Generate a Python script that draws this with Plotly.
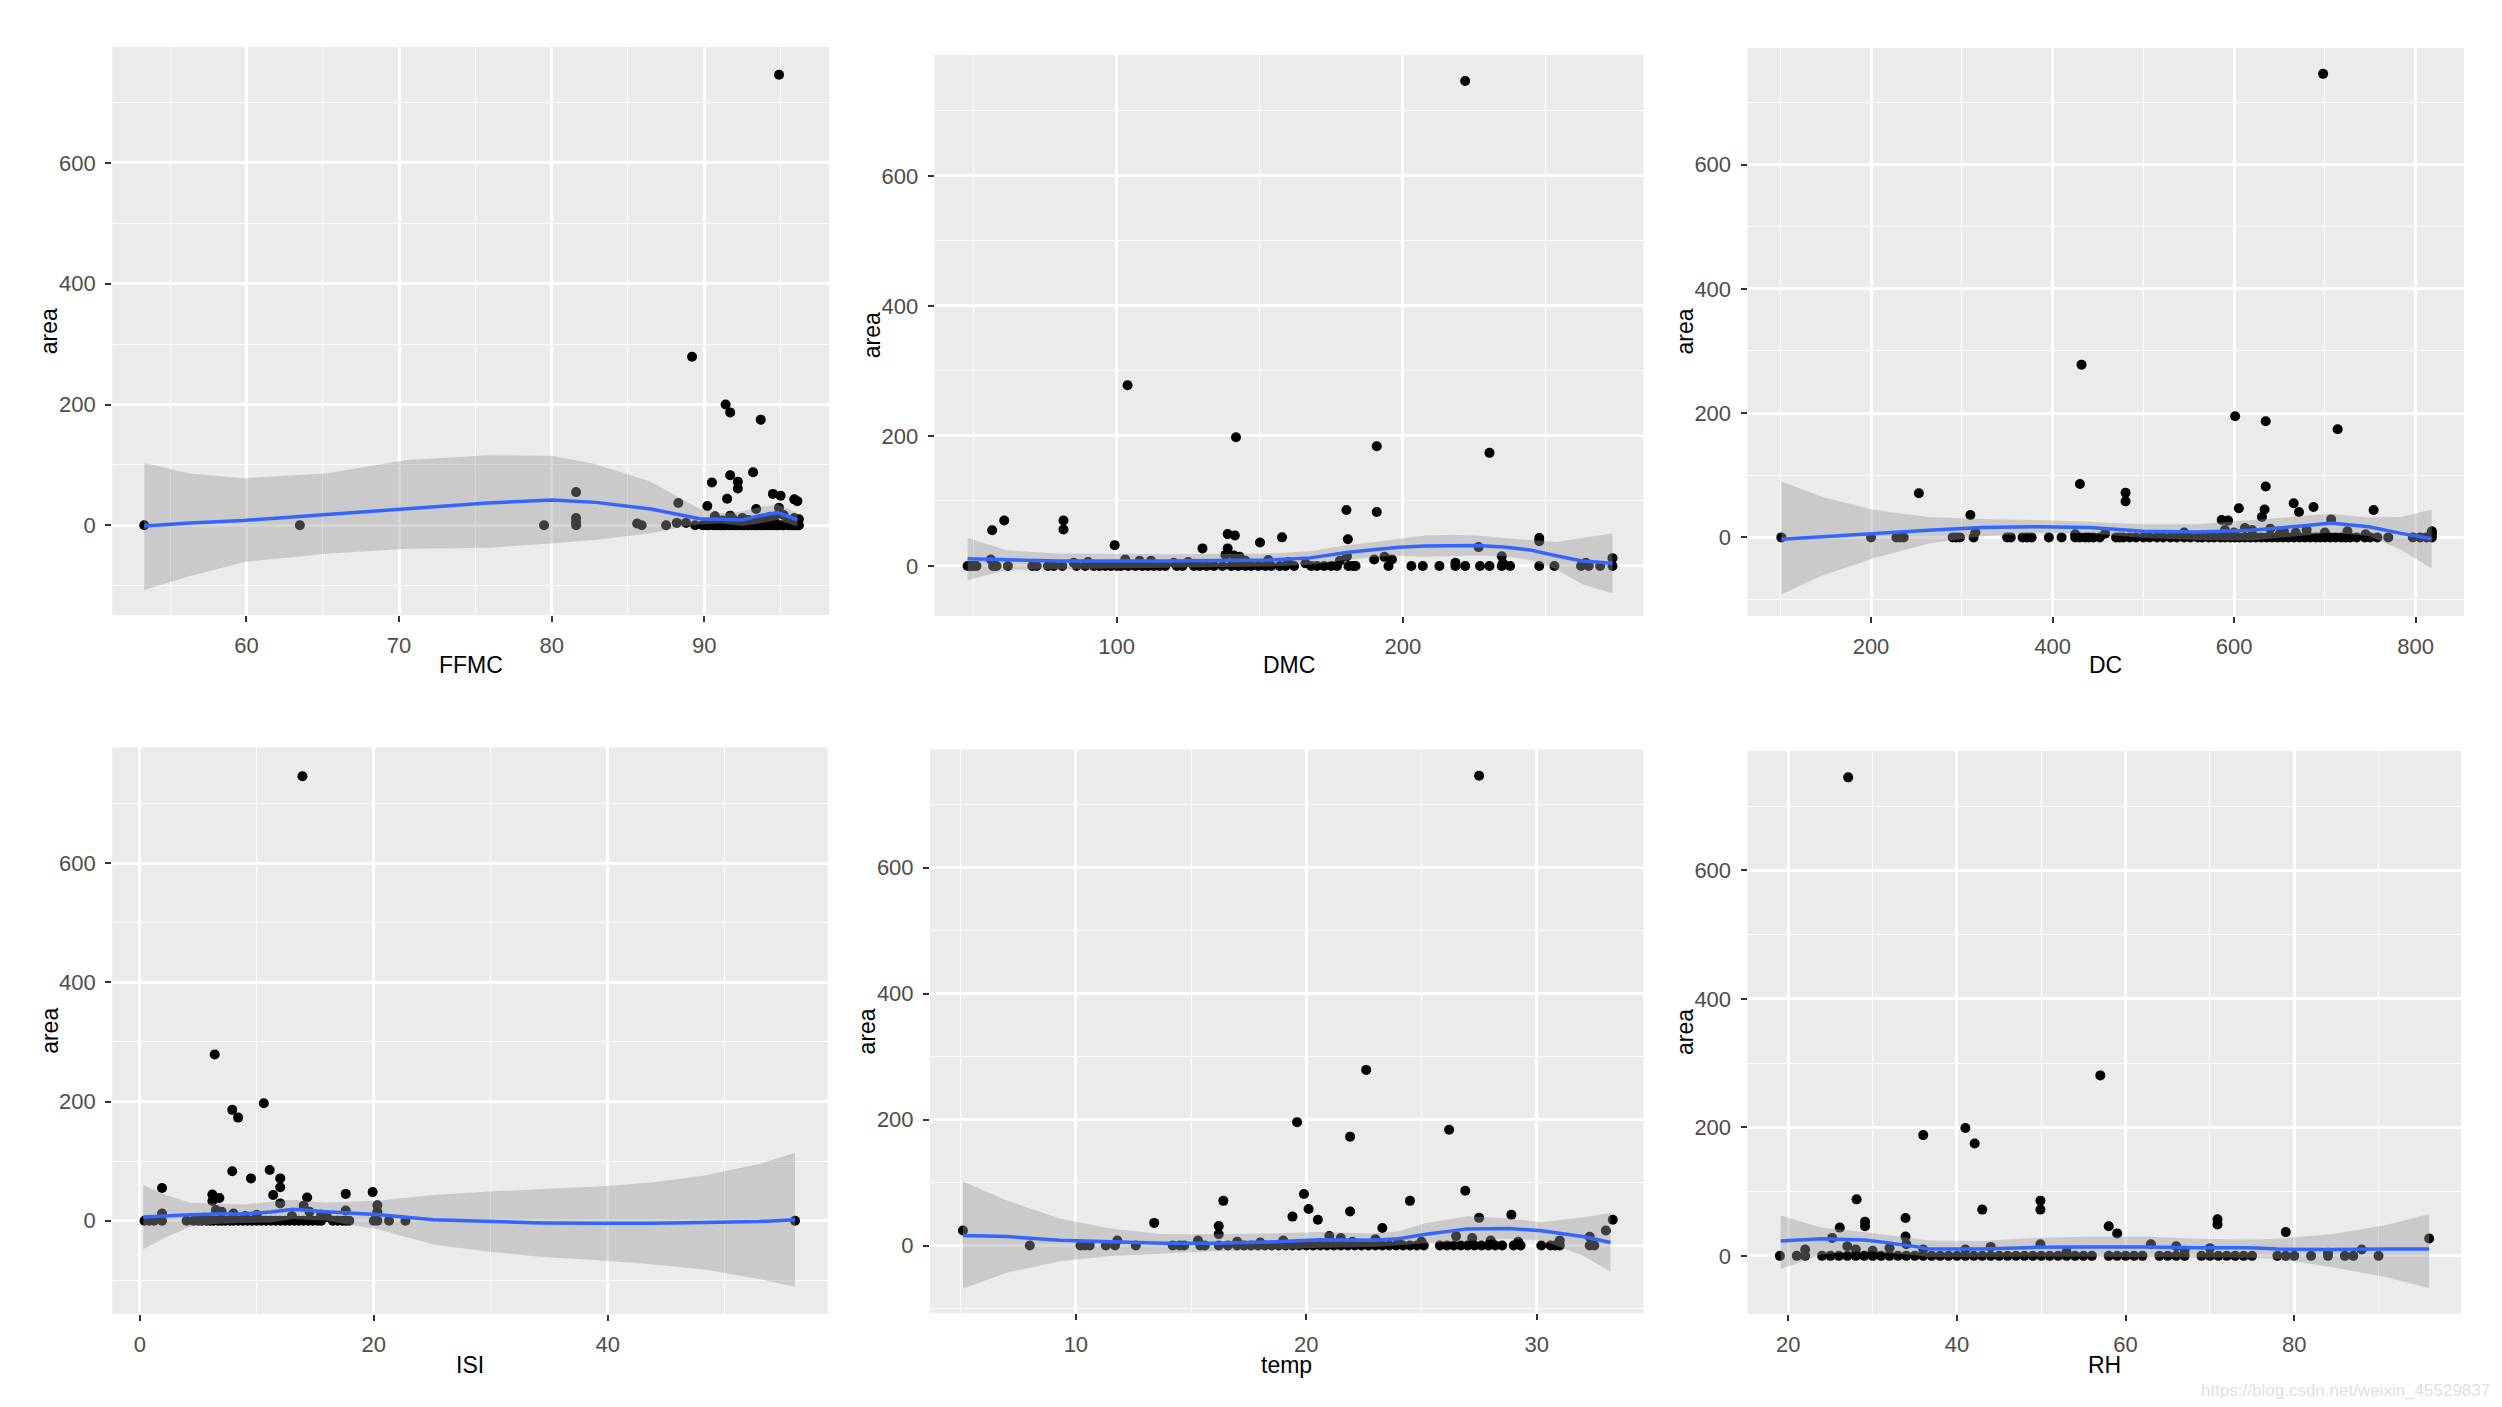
import plotly.graph_objects as go

# ---------------- data ----------------
# FFMC panel
ffmc_x = [94.9, 89.2, 91.4, 91.7, 93.7, 93.2, 91.7, 90.5, 92.2, 92.2, 81.6, 94.5, 95.0, 91.5, 95.9,
          96.1, 88.3, 90.2, 93.4, 94.9, 81.6, 81.6, 85.6, 88.2, 88.8, 90.7, 91.2, 91.7, 92.5, 93.3,
          93.7, 94.3, 94.9, 95.2, 95.9, 96.2, 92.0, 92.9, 93.9, 94.6, 95.5, 90.9, 91.9]
ffmc_area = [746, 279, 200, 187, 175, 88, 83, 71, 72, 61, 55, 52, 49, 44, 43,
             40, 37, 32, 27, 29, 12, 6, 3, 4, 4, 15, 8, 16, 12, 6,
             10, 14, 20, 17, 12, 10, 5, 9, 4, 7, 5, 3, 10]
ffmc_zero_x = [53.3, 63.5, 79.5, 81.6, 85.9, 87.5, 89.4, 89.9, 90.1, 90.3, 90.6, 90.8, 91.0, 91.1,
               91.3, 91.4, 91.6, 91.8, 92.0, 92.1, 92.3, 92.5, 92.6, 92.8, 92.9, 93.1, 93.3, 93.4,
               93.5, 93.7, 93.9, 94.1, 94.3, 94.5, 94.7, 94.8, 95.0, 95.1, 95.2, 95.5, 95.7, 95.8,
               95.9, 96.0, 96.1, 96.2]
ffmc_fit_x = [53.3, 56.3, 59.8, 65.2, 70.5, 75.8, 80.0, 82.9, 86.5, 88.6, 89.7, 91.1, 92.5, 93.6, 94.8, 96.1]
ffmc_fit = [-1, 4, 8, 18, 28, 37, 42, 38, 27, 16, 11, 10, 9, 16, 21, 9]
ffmc_hi = [103, 86, 78, 86, 108, 116, 115, 101, 72, 42, 27, 20, 23, 30, 35, 20]
ffmc_lo = [-107, -84, -61, -47, -39, -37, -30, -24, -13, -2, 1.5, 3, -1, 3, 9, -2]

# DMC panel
dmc_x = [221.8, 103.8, 141.7, 190.9, 230.3, 180.3, 190.9, 60.7, 81.4, 81.4, 56.5, 138.8, 141.3, 157.8,
         247.7, 180.8, 150.1, 99.3, 247.7, 130.0, 138.8, 226.5, 234.6, 193.6, 196.2, 180.5, 141.0,
         143.0, 138.0, 56.0, 108.0, 112.0, 273.3, 190.0, 85.0, 125.0, 153.0, 160.0, 166.0, 178.0,
         235.0, 218.4, 264.0, 103.0, 90.0, 120.0, 145.0]
dmc_area = [746, 278, 198, 184, 174, 86, 83, 70, 70, 56, 55, 49, 47, 44,
            43, 41, 36, 32, 38, 27, 27, 29, 15, 14, 10, 15, 16,
            14, 17, 10, 8, 8, 12, 10, 5, 6, 9, 6, 4, 8,
            4, 5, 5, 10, 6, 5, 8]
dmc_zero_x = [47.9, 48.5, 49.2, 50.0, 51.0, 56.8, 58.0, 62.0, 70.5, 72.0, 76.0, 78.0, 81.0, 86.0, 89.0,
              92.0, 94.0, 96.0, 98.0, 100.0, 101.5, 104.0, 106.5, 109.0, 111.0, 113.0, 115.0, 117.0,
              121.0, 123.0, 127.0, 129.0, 131.5, 134.0, 137.0, 140.0, 142.5, 145.0, 147.0, 149.5,
              152.0, 154.0, 157.0, 159.0, 162.0, 168.0, 170.0, 172.5, 175.0, 177.0, 181.0, 182.5,
              183.5, 195.0, 203.0, 207.0, 212.8, 218.4, 221.8, 227.0, 230.3, 234.6, 237.5, 247.7,
              253.0, 262.3, 265.0, 269.0, 273.3]
dmc_fit_x = [47.9, 61.6, 80, 116.5, 153, 167.6, 180.4, 189.6, 198.7, 207.9, 217, 226, 235.3, 244.4, 253.6, 262.7, 273.3]
dmc_fit = [11, 9, 7.5, 7.5, 9, 12.4, 20.6, 25, 28.8, 30.5, 31.6, 31.6, 29, 24.7, 15.8, 7.5, 4]
dmc_hi = [43, 24, 19, 18, 19, 22.7, 32, 36.4, 42, 46.7, 48, 47, 43, 40, 37, 43, 50]
dmc_lo = [-22, -6, -4, -3, -1, 2, 9, 13.6, 15.6, 14.3, 15.2, 16, 15, 9.4, -5, -28, -42]

# DC panel
dc_x = [698.2, 432.0, 601.2, 634.9, 714.2, 430.2, 634.9, 252.7, 480.5, 480.5, 665.7, 687.6, 605.3,
        753.8, 633.7, 671.6, 630.8, 309.5, 586.4, 593.5, 707.0, 315, 458, 545, 590, 612, 620, 640,
        655, 668, 680, 700, 725, 745, 818, 818, 425, 600, 650]
dc_area = [746, 278, 195, 187, 174, 86, 82, 71, 72, 58, 55, 49, 47,
           44, 45, 41, 33, 36, 28, 27, 29, 8, 6, 8, 12, 15, 12, 14,
           10, 8, 12, 8, 10, 5, 10, 5, 5, 8, 5]
dc_zero_x = [101.2, 200.0, 228, 232, 236, 290, 294, 298, 313, 350, 354, 367, 372, 377, 396, 410, 425,
             430, 436, 440, 445, 452, 470, 474, 478, 485, 492, 500, 507, 515, 522, 530, 537, 545, 552,
             560, 565, 572, 578, 585, 590, 596, 601, 606, 612, 618, 624, 630, 636, 642, 648, 654, 660,
             666, 672, 678, 684, 690, 695, 700, 706, 712, 718, 723, 728, 735, 744, 750, 758, 770, 797,
             805, 812, 818]
dc_fit_x = [101.2, 145, 204, 263.3, 322.5, 381.6, 440.8, 500, 559.2, 618.3, 677.5, 707, 748.5, 784, 817.8]
dc_fit = [-3, 1, 5.7, 11.5, 15.8, 17.2, 15.8, 10, 8.6, 11.5, 18.7, 23, 17.2, 6.5, -2.2]
dc_hi = [90, 66, 44, 33, 29.5, 28, 25, 21, 21, 28, 34, 38, 32, 33, 45]
dc_lo = [-92, -62, -33, -10, 2, 6.5, 6.5, -1, -4, -5, 3, 8, 2.4, -20, -50]

# ISI panel
isi_x = [13.9, 6.4, 10.6, 7.9, 8.4, 11.1, 7.9, 9.5, 12.0, 12.0, 1.9, 19.9, 17.6, 6.2, 11.4, 14.3, 6.8,
         6.2, 12.0, 20.3, 1.9, 7.0, 8.0, 10.0, 14.0, 14.5, 17.6, 20.3, 13.0, 15.5, 5.5, 9.0, 6.5, 16.0]
isi_area = [746, 279, 197, 186, 173, 85, 83, 71, 71, 56, 55, 48, 45, 44, 43, 39, 38,
            33, 29, 26, 12, 15, 12, 10, 25, 15, 17, 15, 8, 10, 5, 8, 18, 6]
isi_zero_x = [0.4, 0.8, 1.2, 1.9, 4.0, 4.6, 5.0, 5.3, 5.7, 6.0, 6.3, 6.7, 7.0, 7.3, 7.7, 8.0, 8.4, 8.8,
              9.2, 9.6, 10.0, 10.4, 10.8, 11.2, 11.6, 12.0, 12.4, 12.8, 13.2, 13.6, 14.0, 14.4, 14.8,
              15.2, 15.5, 16.5, 16.9, 17.3, 17.6, 17.9, 20.0, 20.3, 21.3, 22.7, 56.0]
isi_fit_x = [0.3, 2.0, 4.3, 6.6, 8.9, 11.2, 13.1, 15.9, 20.5, 25.1, 29.8, 34.4, 39.0, 43.7, 48.3, 52.9, 56.0]
isi_fit = [6, 8, 10, 11.4, 11.4, 14.4, 19, 15, 9.8, 1.5, -1.5, -3.8, -4.5, -4.5, -3, -1.5, 1.5]
isi_hi = [60, 45, 30, 28, 27, 32, 35, 30, 34, 43, 49, 53, 57, 64, 76, 95, 114]
isi_lo = [-48, -30, -10, -5, -4, -3, 3, 0, -15, -40, -52, -61, -66, -73, -82, -98, -111]

# temp panel
temp_x = [27.5, 22.6, 19.6, 21.9, 26.2, 26.9, 19.9, 16.4, 24.5, 20.1, 21.9, 28.9, 19.4, 20.5, 33.3,
          27.5, 13.4, 16.2, 33.0, 5.1, 23.3, 16.2, 21.0, 21.5, 23.0, 26.5, 27.2, 32.3, 11.8, 15.3,
          17.0, 19.0, 25.0, 31.0, 28.0, 22.0, 18.0, 24.0, 29.2]
temp_area = [746, 279, 196, 173, 184, 87, 82, 71, 71, 58, 54, 49, 46, 41, 41,
             44, 36, 31, 24, 24, 28, 18, 15, 12, 10, 15, 12, 14, 8, 8,
             6, 8, 6, 8, 8, 6, 5, 5, 6]
temp_zero_x = [8.0, 10.2, 10.4, 10.6, 11.3, 11.7, 12.6, 14.2, 14.5, 14.7, 15.4, 15.6, 16.2, 16.6, 17.0,
               17.3, 17.6, 17.9, 18.2, 18.5, 18.8, 19.1, 19.4, 19.7, 20.0, 20.3, 20.6, 20.9, 21.2,
               21.5, 21.8, 22.1, 22.4, 22.7, 23.0, 23.3, 23.6, 23.9, 24.2, 24.5, 24.8, 25.1, 25.8,
               26.1, 26.4, 26.7, 27.0, 27.3, 27.6, 27.9, 28.2, 28.5, 29.0, 29.3, 30.2, 30.6, 30.8,
               31.0, 32.3, 32.5]
temp_fit_x = [5.1, 7.0, 9.3, 11.5, 13.8, 16.1, 18.4, 20.6, 22.9, 24.0, 25.2, 27.0, 28.8, 30.2, 32.0, 33.2]
temp_fit = [15.8, 14.3, 8.6, 5.7, 3.6, 3.6, 5.7, 9.3, 8.6, 10.7, 17.9, 26.5, 27.2, 23.6, 14.3, 5]
temp_hi = [101.7, 71.6, 43, 27.2, 17.9, 17.9, 19.3, 21.5, 19.3, 22.9, 35.8, 46.5, 43, 37.2, 44.4, 51.6]
temp_lo = [-68, -43, -25, -16.5, -12.9, -8.6, -7.2, -3.6, -2.1, 0, 3.6, 7.2, 10.7, 8.6, -15.8, -41.5]

# RH panel
rh_x = [27.1, 57.0, 41.0, 36.0, 42.1, 28.1, 49.9, 43.0, 49.9, 33.9, 70.9, 29.1, 70.9, 29.1, 58.0,
        26.1, 59.0, 79.0, 33.9, 96.0, 25.2, 49.9, 63.0, 66.0, 22.0, 27.0, 28.0, 30.0, 32.0, 34.0,
        36.0, 41.0, 44.0, 70.0, 88.0, 84.0, 53.0, 67.0]
rh_area = [745, 281, 199, 188, 175, 88, 86, 72, 72, 59, 57, 53, 49, 46, 46,
           44, 35, 37, 30, 27, 28, 18, 18, 15, 10, 15, 10, 8, 12, 18,
           10, 10, 14, 12, 10, 5, 6, 8]
rh_zero_x = [19.0, 21.0, 22.0, 24.0, 25.0, 26.0, 27.0, 28.0, 29.0, 30.0, 31.0, 32.0, 33.0, 34.0, 35.0,
             36.0, 37.0, 38.0, 39.0, 40.0, 41.0, 42.0, 43.0, 44.0, 45.0, 46.0, 47.0, 48.0, 49.0, 50.0,
             51.0, 52.0, 53.0, 54.0, 55.0, 56.0, 58.0, 59.0, 60.0, 61.0, 62.0, 64.0, 65.0, 66.0, 67.0,
             69.0, 70.0, 71.0, 72.0, 73.0, 74.0, 75.0, 78.0, 79.0, 80.0, 82.0, 84.0, 86.0, 87.0, 90.0]
rh_fit_x = [19.1, 23.9, 29.0, 31.5, 35.3, 36.6, 43.0, 49.4, 55.7, 62.1, 68.5, 74.8, 78.0, 84.4, 90.8, 96.0]
rh_fit = [23, 26.7, 24.6, 21, 14, 10.5, 10.5, 13.3, 14, 14, 12.6, 12.6, 10.5, 9.8, 10.5, 10.5]
rh_hi = [63, 44.2, 37.2, 33, 26.7, 24, 23.2, 28, 30.2, 30.2, 26.7, 25.3, 26.7, 33.7, 47.7, 65.3]
rh_lo = [-20.4, 2.1, 7.7, 5, 0.7, -2, -2.1, -1.4, -1.4, -1.4, -2.1, -2.8, -4.9, -17.5, -33, -50.5]

x_titles = ["FFMC", "DMC", "DC", "ISI", "temp", "RH"]
y_ticks = [0, 200, 400, 600]

# ---------------- layout geometry (pixels in a 2502x1407 canvas) ----------------
W, H = 2502, 1407
panels = [
    dict(px=(112.2, 829.4), py=(47, 615), xr=(51.2, 98.2), yr=(-148.5, 792), dt=10, mdt=5,
         data=(ffmc_x, ffmc_area, ffmc_zero_x, ffmc_fit_x, ffmc_fit, ffmc_lo, ffmc_hi)),
    dict(px=(934.7, 1643.4), py=(55, 616), xr=(36.4, 284.1), yr=(-77, 786), dt=100, mdt=50,
         data=(dmc_x, dmc_area, dmc_zero_x, dmc_fit_x, dmc_fit, dmc_lo, dmc_hi)),
    dict(px=(1747.5, 2463.9), py=(48, 616), xr=(63.9, 853.3), yr=(-126.5, 787.6), dt=200, mdt=100,
         data=(dc_x, dc_area, dc_zero_x, dc_fit_x, dc_fit, dc_lo, dc_hi)),
    dict(px=(112.2, 827.8), py=(747.3, 1314), xr=(-2.36, 58.8), yr=(-156.6, 794.5), dt=20, mdt=10,
         data=(isi_x, isi_area, isi_zero_x, isi_fit_x, isi_fit, isi_lo, isi_hi)),
    dict(px=(930, 1643.4), py=(749.6, 1313.2), xr=(3.67, 34.63), yr=(-107.4, 787.6), dt=10, mdt=5,
         data=(temp_x, temp_area, temp_zero_x, temp_fit_x, temp_fit, temp_lo, temp_hi)),
    dict(px=(1747.5, 2461.2), py=(751, 1314), xr=(15.16, 99.8), yr=(-90.5, 786), dt=20, mdt=10,
         data=(rh_x, rh_area, rh_zero_x, rh_fit_x, rh_fit, rh_lo, rh_hi)),
]

FONT = "Liberation Sans, Arial, sans-serif"
fig = go.Figure()
annotations = []

for i, p in enumerate(panels):
    k = "" if i == 0 else str(i + 1)
    xa, ya = "x" + k, "y" + k
    px_, area_, zx, fx, fy, flo, fhi = p["data"]
    all_x = list(px_) + list(zx)
    all_y = list(area_) + [0] * len(zx)
    fig.add_trace(go.Scatter(x=all_x, y=all_y, mode="markers", xaxis=xa, yaxis=ya,
                             marker=dict(color="black", size=10, line=dict(width=0)),
                             showlegend=False, hoverinfo="skip"))
    fig.add_trace(go.Scatter(x=list(fx) + list(fx)[::-1], y=list(fhi) + list(flo)[::-1],
                             mode="lines", fill="toself", fillcolor="rgba(153,153,153,0.4)",
                             line=dict(width=0), xaxis=xa, yaxis=ya, showlegend=False,
                             hoverinfo="skip"))
    fig.add_trace(go.Scatter(x=fx, y=fy, mode="lines", line=dict(color="#3366FF", width=3.5),
                             xaxis=xa, yaxis=ya, showlegend=False, hoverinfo="skip"))

    xdom = [p["px"][0] / W, p["px"][1] / W]
    ydom = [1 - p["py"][1] / H, 1 - p["py"][0] / H]
    common = dict(showgrid=True, gridcolor="white", gridwidth=2.5, zeroline=False, showline=False,
                  ticks="outside", ticklen=6, tickwidth=1.5, tickcolor="#333333",
                  tickfont=dict(family=FONT, size=22, color="#4D4D4D"),
                  ticklabelstandoff=5, fixedrange=True)
    fig.layout["xaxis" + k] = dict(domain=xdom, range=list(p["xr"]), anchor=ya, tick0=0, dtick=p["dt"],
                                   minor=dict(showgrid=True, gridcolor="white", gridwidth=1.4,
                                              tick0=0, dtick=p["mdt"]),
                                   **common)
    fig.layout["yaxis" + k] = dict(domain=ydom, range=list(p["yr"]), anchor=xa, tickvals=y_ticks,
                                   ticktext=[str(v) for v in y_ticks],
                                   minor=dict(showgrid=True, gridcolor="white", gridwidth=1.4,
                                              tick0=0, dtick=100),
                                   **common)
    # axis titles
    xc = (p["px"][0] + p["px"][1]) / 2 / W
    ty = 665 if i < 3 else 1365
    annotations.append(dict(text=x_titles[i], x=xc, y=1 - ty / H, xref="paper", yref="paper",
                            showarrow=False, xanchor="center", yanchor="middle",
                            font=dict(family=FONT, size=23, color="black")))
    yc = 1 - (p["py"][0] + p["py"][1]) / 2 / H
    annotations.append(dict(text="area", x=(p["px"][0] - 63) / W, y=yc, xref="paper", yref="paper",
                            showarrow=False, xanchor="center", yanchor="middle", textangle=-90,
                            font=dict(family=FONT, size=23, color="black")))

annotations.append(dict(text="https://blog.csdn.net/weixin_45529837", x=2492 / W, y=1 - 1390 / H,
                        xref="paper", yref="paper", showarrow=False, xanchor="right",
                        yanchor="middle", font=dict(family=FONT, size=17, color="#E0E0E0")))

fig.update_layout(width=W, height=H, margin=dict(l=0, r=0, t=0, b=0),
                  paper_bgcolor="white", plot_bgcolor="#EBEBEB",
                  annotations=annotations, showlegend=False)

fig.write_html("out.html", config={"displayModeBar": False},
               post_script="document.body.style.margin='0px';document.body.style.overflow='hidden';")
